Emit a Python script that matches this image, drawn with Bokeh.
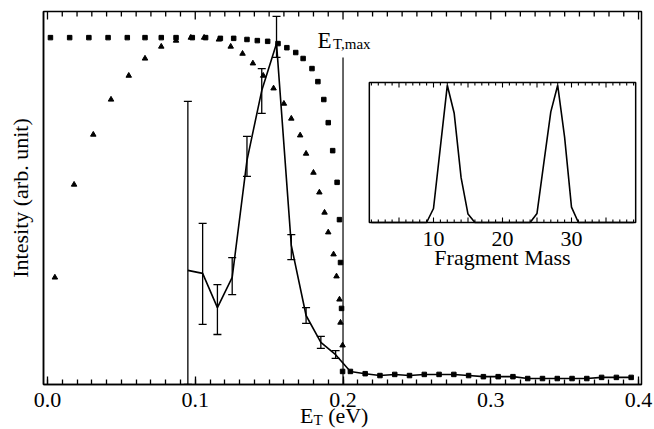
import numpy as np
from bokeh.plotting import figure
from bokeh.layouts import column
from bokeh.models import (ColumnDataSource, Range1d, FixedTicker,
                          Whisker, TeeHead, Label, Div)
from bokeh.embed import file_html
from bokeh.resources import INLINE

# ---------------- data ----------------
# squares (approach to E_T,max)
sq_x = [0.002, 0.015, 0.028, 0.041, 0.054, 0.066, 0.077, 0.087, 0.098, 0.107,
        0.117, 0.126, 0.135, 0.142, 0.149, 0.156, 0.162, 0.168, 0.173, 0.179,
        0.183, 0.187, 0.190, 0.193, 0.196, 0.1976, 0.1983, 0.1990, 0.1997]
sq_y = [0.930, 0.930, 0.930, 0.930, 0.930, 0.930, 0.930, 0.930, 0.930, 0.930,
        0.928, 0.928, 0.925, 0.922, 0.920, 0.914, 0.903, 0.890, 0.874, 0.847,
        0.812, 0.764, 0.702, 0.627, 0.542, 0.442, 0.327, 0.204, 0.035]
# triangles
tri_x = [0.005, 0.018, 0.031, 0.043, 0.055, 0.066, 0.077, 0.087, 0.097, 0.106,
         0.116, 0.124, 0.132, 0.139, 0.146, 0.153, 0.160, 0.165, 0.171, 0.175,
         0.180, 0.184, 0.1875, 0.190, 0.1936, 0.1956, 0.1976, 0.1983, 0.1997]
tri_y = [0.287, 0.536, 0.670, 0.764, 0.828, 0.874, 0.906, 0.922, 0.930, 0.930,
         0.925, 0.906, 0.887, 0.861, 0.828, 0.794, 0.753, 0.713, 0.668, 0.619,
         0.568, 0.515, 0.461, 0.408, 0.349, 0.290, 0.228, 0.166, 0.105]
# measured distribution with error bars
meas_x = [0.095, 0.105, 0.115, 0.125, 0.135, 0.145, 0.155, 0.165, 0.175, 0.185, 0.195]
meas_y = [0.306, 0.298, 0.206, 0.287, 0.601, 0.788, 0.914, 0.373, 0.185, 0.113, 0.080]
meas_lo = [0.000, 0.161, 0.134, 0.241, 0.558, 0.727, 0.877, 0.335, 0.164, 0.097, 0.070]
meas_hi = [0.759, 0.432, 0.268, 0.340, 0.665, 0.847, 0.987, 0.402, 0.206, 0.129, 0.091]
# common tail beyond E_T,max
tail_x = [0.205, 0.215, 0.225, 0.235, 0.245, 0.255, 0.265, 0.275, 0.285, 0.295,
          0.305, 0.315, 0.325, 0.335, 0.345, 0.355, 0.365, 0.375, 0.385, 0.395]
tail_y = [0.035, 0.029, 0.024, 0.027, 0.024, 0.027, 0.027, 0.027, 0.024, 0.021,
          0.021, 0.021, 0.016, 0.016, 0.016, 0.016, 0.016, 0.019, 0.019, 0.019]
et_max = 0.2
et_max_line_top = 0.877

x_ticks = [0.0, 0.1, 0.2, 0.3, 0.4]
x_tick_labels = ["0.0", "0.1", "0.2", "0.3", "0.4"]
x_minor = [round(0.01 * i, 2) for i in range(41)]

# inset: fragment mass spectrum
mass = list(range(1, 40))
mass_signal = [0, 0, 0, 0, 0, 0, 0, 0, 0, 0.10, 0.54, 0.98, 0.78, 0.32, 0.06, 0, 0, 0, 0, 0,
               0, 0, 0, 0, 0.065, 0.43, 0.79, 0.98, 0.61, 0.11, 0, 0, 0, 0, 0, 0, 0, 0, 0]
mass_ticks = [10, 20, 30]
mass_tick_labels = ["10", "20", "30"]
mass_lo, mass_hi = 0.7, 39.3

# ---------------- layout ----------------
W, H = 654, 420
FL, FR, FT, FB = 43, 641, 11, 384          # frame in canvas px
X0, X1 = -0.0027, 0.4020
PXY = FB - FT                               # px per y unit
# inset placement in canvas px: mass origin / px per unit, signal origin / px per unit
IM0, IMS = 364.0, 6.9
IS0, ISS = 222.0, 140.0

FONT = "Liberation Serif"

p = figure(width=W, height=H, x_range=Range1d(X0, X1), y_range=Range1d(0, 1),
           output_backend="svg", toolbar_location=None,
           min_border_left=FL, min_border_right=W - FR,
           min_border_top=FT, min_border_bottom=H - FB)
p.grid.visible = False
p.outline_line_color = "black"
p.outline_line_width = 1.5
p.background_fill_color = "white"
p.border_fill_color = "white"

xa = p.xaxis[0]
xa.ticker = FixedTicker(ticks=x_ticks, minor_ticks=x_minor)
xa.major_label_overrides = {t: l for t, l in zip(x_ticks, x_tick_labels)}
xa.major_tick_in = 8
xa.major_tick_out = 0
xa.minor_tick_in = 5
xa.minor_tick_out = 0
xa.major_tick_line_width = 1.3
xa.minor_tick_line_width = 1.3
xa.axis_line_width = 1.5
xa.major_label_text_font = FONT
xa.major_label_text_font_size = "22px"
xa.major_label_text_color = "black"
xa.major_label_standoff = 8

ya = p.yaxis[0]
ya.ticker = FixedTicker(ticks=[])
ya.major_tick_in = 0
ya.major_tick_out = 0
ya.minor_tick_in = 0
ya.minor_tick_out = 0
ya.major_label_standoff = 0
ya.axis_line_width = 1.5
ya.axis_label = "Intesity (arb. unit)"
ya.axis_label_text_font = FONT
ya.axis_label_text_font_style = "normal"
ya.axis_label_text_font_size = "22px"
ya.axis_label_text_color = "black"
ya.axis_label_standoff = 11

# top-edge ticks (mirror of the bottom axis)
top_len = [8.0 / PXY if any(abs(m - t) < 1e-9 for t in x_ticks) else 5.0 / PXY for m in x_minor]
p.segment(x0=x_minor, y0=[1.0] * len(x_minor), x1=x_minor, y1=[1.0 - l for l in top_len],
          line_color="black", line_width=1.3)

# main series
p.line(meas_x + tail_x, meas_y + tail_y, line_color="black", line_width=1.6)
src = ColumnDataSource(dict(x=meas_x, lo=meas_lo, hi=meas_hi))
p.add_layout(Whisker(source=src, base="x", lower="lo", upper="hi",
                     line_color="black", line_width=1.3,
                     upper_head=TeeHead(size=8, line_color="black", line_width=1.3),
                     lower_head=TeeHead(size=8, line_color="black", line_width=1.3)))
p.scatter(sq_x + tail_x, sq_y + tail_y, marker="square", size=4.5,
          fill_color="black", line_color="black")
p.scatter(tri_x, tri_y, marker="triangle", size=5.5,
          fill_color="black", line_color="black")
p.segment(x0=[et_max], y0=[0], x1=[et_max], y1=[et_max_line_top],
          line_color="black", line_width=1.2)

# E_T,max label
p.add_layout(Label(x=0.1827, y=0.922, text="E", text_font=FONT, text_baseline="alphabetic",
                   text_font_size="23px", text_color="black"))
p.add_layout(Label(x=0.1932, y=0.914, text="T,max", text_font=FONT, text_baseline="alphabetic",
                   text_font_size="15px", text_color="black"))

# ---------------- inset (own ranges) ----------------
p.extra_x_ranges = {"mass": Range1d((FL - IM0) / IMS, (FR - IM0) / IMS)}
p.extra_y_ranges = {"sig": Range1d(-(FB - IS0) / ISS, (IS0 - FT) / ISS)}
ik = dict(x_range_name="mass", y_range_name="sig")
p.quad(left=[mass_lo], right=[mass_hi], bottom=[0], top=[1.0], fill_color="white",
       line_color="black", line_width=1.5, **ik)
minor_m = [m for m in range(1, 40)]
tick_len = [5.0 / ISS if m % 5 == 0 else 3.0 / ISS for m in minor_m]
p.segment(x0=minor_m, y0=[0] * len(minor_m), x1=minor_m, y1=tick_len,
          line_color="black", line_width=1.1, **ik)
p.segment(x0=minor_m, y0=[1.0] * len(minor_m), x1=minor_m, y1=[1.0 - t for t in tick_len],
          line_color="black", line_width=1.1, **ik)
p.line(mass, mass_signal, line_color="black", line_width=1.6, **ik)
for mt, ml in zip(mass_ticks, mass_tick_labels):
    p.add_layout(Label(x=mt, y=-0.121, text=ml, text_align="center",
                       text_baseline="alphabetic", text_font=FONT,
                       text_font_size="22px", text_color="black", **ik))
p.add_layout(Label(x=20, y=-0.25, text="Fragment Mass", text_align="center",
                   text_baseline="alphabetic",
                   text_font=FONT, text_font_size="22px", text_color="black", **ik))

# x-axis title with a real subscript, drawn as HTML text just under the plot
xlabel_html = (
    '<div style="position:relative;width:654px;height:25px;">'
    '<span style="position:absolute;left:300px;top:2px;font-family:\'Liberation Serif\';'
    'font-size:22px;line-height:20px;color:black;white-space:nowrap;">'
    'E<span style="font-size:15px;line-height:15px;position:relative;top:2px;">T</span>'
    ' (eV)</span></div>'
)
xlabel = Div(text=xlabel_html, width=654, height=25, margin=(-16, 0, 0, 0))

layout = column(p, xlabel, spacing=0)
open("out.html", "w").write(file_html(layout, INLINE))
